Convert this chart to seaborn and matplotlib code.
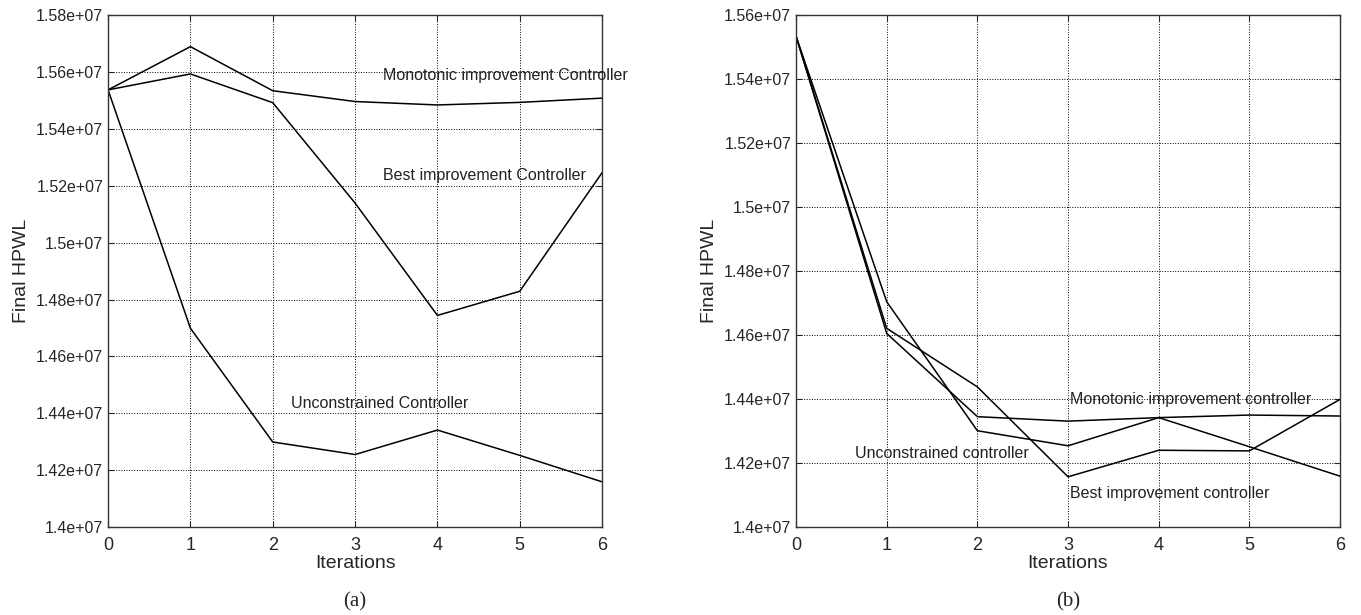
import numpy as np
import pandas as pd
import matplotlib.pyplot as plt
import seaborn as sns
from matplotlib.ticker import FuncFormatter, MultipleLocator

sns.set_style("ticks")
plt.rcParams['font.family'] = ['Liberation Sans Narrow', 'Liberation Sans', 'DejaVu Sans']

iterations = [0, 1, 2, 3, 4, 5, 6]

# panel (a), values in units of 1e7
a_monotonic = [1.5537, 1.5689, 1.5534, 1.5496, 1.5484, 1.5493, 1.5508]
a_best = [1.5537, 1.5593, 1.5492, 1.5139, 1.4744, 1.4829, 1.5246]
a_unconstrained = [1.5537, 1.4699, 1.4299, 1.4255, 1.4341, 1.4252, 1.4159]

# panel (b)
b_monotonic = [1.5534, 1.4605, 1.4345, 1.4331, 1.4342, 1.4350, 1.4347]
b_best = [1.5534, 1.4621, 1.4438, 1.4157, 1.4240, 1.4238, 1.4399]
b_unconstrained = [1.5534, 1.4704, 1.4301, 1.4254, 1.4342, 1.4251, 1.4159]

a_labels = [("Monotonic improvement Controller", 3.34, 1.5586),
            ("Best improvement Controller", 3.34, 1.5235),
            ("Unconstrained Controller", 2.22, 1.4435)]
b_labels = [("Monotonic improvement controller", 3.02, 1.4400),
            ("Unconstrained controller", 0.65, 1.4231),
            ("Best improvement controller", 3.02, 1.4106)]

fig = plt.figure(figsize=(13.61, 6.15), dpi=100)
ax1 = fig.add_axes([0.0794, 0.143, 0.363, 0.8325])
ax2 = fig.add_axes([0.5849, 0.143, 0.3997, 0.8325])

panels = [
    (ax1, [a_monotonic, a_best, a_unconstrained], a_labels, (1.40, 1.58), "(a)"),
    (ax2, [b_monotonic, b_best, b_unconstrained], b_labels, (1.40, 1.56), "(b)"),
]

fmt = FuncFormatter(lambda v, p: f"{v:g}")

for ax, series, labels, ylim, cap in panels:
    for s in series:
        df = pd.DataFrame({"it": iterations, "hpwl": np.array(s) * 1e7})
        sns.lineplot(data=df, x="it", y="hpwl", ax=ax, color="black", lw=1.1)
    for txt, x, y in labels:
        ax.text(x, y * 1e7, txt, fontsize=11.5, va="center", ha="left", color="#222222")
    ax.set_xlim(0, 6)
    ax.set_ylim(ylim[0] * 1e7, ylim[1] * 1e7)
    ax.xaxis.set_major_locator(MultipleLocator(1))
    ax.yaxis.set_major_locator(MultipleLocator(0.02e7))
    ax.yaxis.set_major_formatter(fmt)
    ax.grid(True, color="black", linestyle=":", linewidth=0.7)
    ax.tick_params(direction="in", top=True, right=True, labelsize=11.5, length=4)
    ax.tick_params(axis="x", pad=7, labelsize=13)
    ax.set_xlabel("Iterations", fontsize=14, labelpad=1)
    ax.set_ylabel("Final HPWL", fontsize=14, labelpad=4)
    for sp in ax.spines.values():
        sp.set_linewidth(1.0)
        sp.set_color("#333333")
    ax.text(0.5, -0.128, cap, transform=ax.transAxes, ha="center", va="top",
            fontsize=15, family=["Liberation Serif", "DejaVu Serif"])

fig.savefig("out.png", dpi=100)
